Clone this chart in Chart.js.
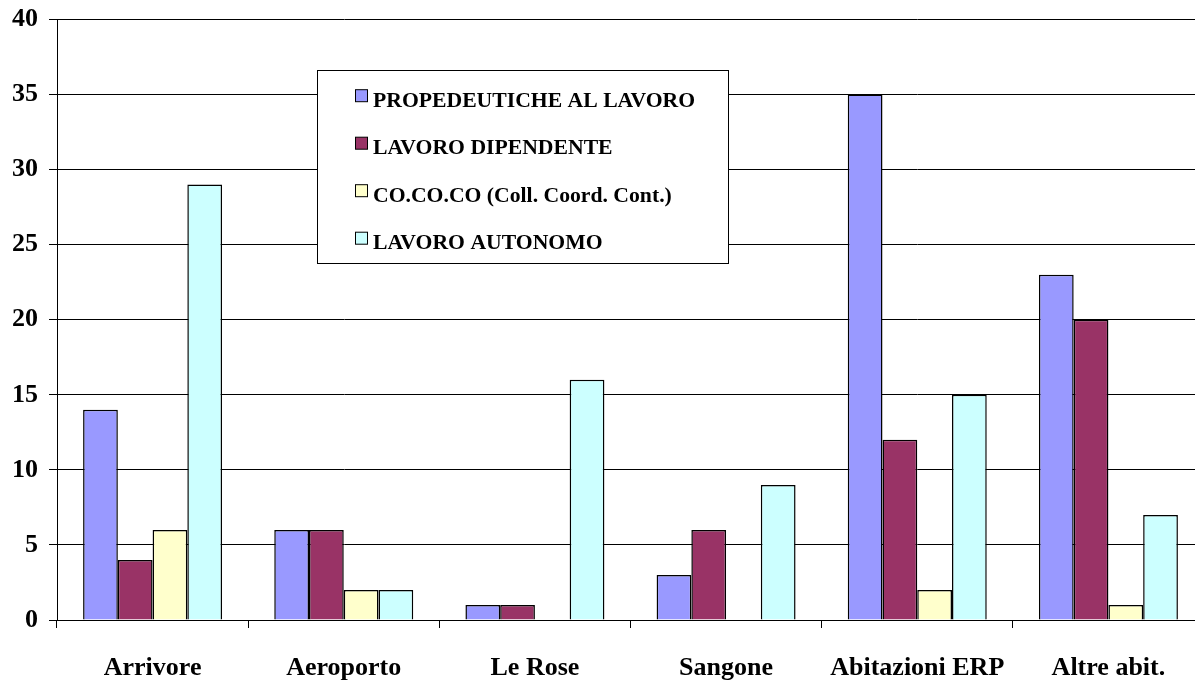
<!DOCTYPE html>
<html>
<head>
<meta charset="utf-8">
<script src="https://cdn.jsdelivr.net/npm/chart.js@4.4.1/dist/chart.umd.min.js"></script>
<style>
  html, body { margin: 0; padding: 0; background: #fff; overflow: hidden; }
  #wrap { width: 1206px; height: 682px; position: relative; }
</style>
</head>
<body>
<div id="wrap"><canvas id="c"></canvas></div>
<script>
const categories = ['Arrivore', 'Aeroporto', 'Le Rose', 'Sangone', 'Abitazioni ERP', 'Altre abit.'];
const seriesNames = ['PROPEDEUTICHE AL LAVORO', 'LAVORO DIPENDENTE', 'CO.CO.CO (Coll. Coord. Cont.)', 'LAVORO AUTONOMO'];
const propedeutiche = [14, 6, 1, 3, 35, 23];
const dipendente = [4, 6, 1, 6, 12, 20];
const cococo = [6, 2, 0, 0, 2, 1];
const autonomo = [29, 2, 16, 9, 15, 7];
const seriesColors = ['#9999FF', '#993366', '#FFFFCC', '#CCFFFF'];
const yTicks = [0, 5, 10, 15, 20, 25, 30, 35, 40];

const FONT = '"Liberation Serif", "Times New Roman", serif';
const values = [propedeutiche, dipendente, cococo, autonomo];

const legendBox = {
  id: 'legendBox',
  afterDatasetsDraw(chart) {
    const ctx = chart.ctx;
    ctx.save();
    const x0 = 317.5, y0 = 70.5, w = 411, h = 193;
    ctx.fillStyle = '#fff';
    ctx.fillRect(x0, y0, w, h);
    ctx.strokeStyle = '#000';
    ctx.lineWidth = 1;
    ctx.strokeRect(x0, y0, w, h);
    ctx.font = 'bold 21.7px ' + FONT;
    ctx.textBaseline = 'alphabetic';
    ctx.textAlign = 'left';
    chart.data.datasets.forEach((ds, i) => {
      const base = 106.7 + i * 47.5;
      ctx.fillStyle = ds.backgroundColor;
      ctx.fillRect(355.5, base - 17, 12, 12);
      ctx.strokeStyle = '#000';
      ctx.strokeRect(355.5, base - 17, 12, 12);
      ctx.fillStyle = '#000';
      ctx.fillText(ds.label, 373, base);
    });
    ctx.restore();
  }
};

new Chart(document.getElementById('c'), {
  type: 'bar',
  data: {
    labels: categories,
    datasets: seriesNames.map((n, i) => ({
      label: n,
      data: values[i],
      backgroundColor: seriesColors[i],
      borderColor: '#000',
      borderWidth: 1.5,
      barPercentage: 1.0,
      categoryPercentage: 0.727
    }))
  },
  options: {
    responsive: true,
    maintainAspectRatio: false,
    animation: false,
    devicePixelRatio: 1,
    layout: { padding: { top: 0, right: 2, left: 0, bottom: 0 } },
    plugins: { legend: { display: false }, tooltip: { enabled: false } },
    scales: {
      x: {
        grid: { display: true, drawOnChartArea: false, drawTicks: true, tickLength: 8, color: '#000', offset: true },
        border: { display: true, color: '#000', width: 1 },
        ticks: { color: '#000', font: { family: FONT, size: 26, weight: 'bold' }, padding: 25, maxRotation: 0, autoSkip: false },
        afterFit(scale) { scale.height = 62; }
      },
      y: {
        min: 0, max: 40,
        afterBuildTicks(scale) { scale.ticks = yTicks.map(v => ({ value: v })); },
        grid: { color: '#000', lineWidth: 1, drawTicks: true, tickLength: 8, tickColor: '#000' },
        border: { display: true, color: '#000', width: 1 },
        ticks: { color: '#000', font: { family: FONT, size: 26, weight: 'bold', lineHeight: 0.65 }, padding: 11 },
        afterFit(scale) { scale.width = 57; }
      }
    }
  },
  plugins: [legendBox]
});
</script>
</body>
</html>
